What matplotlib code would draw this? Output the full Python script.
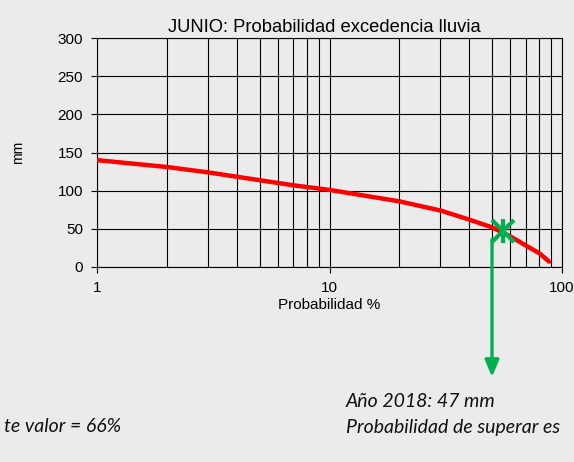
import matplotlib
matplotlib.use("Agg")
import matplotlib.pyplot as plt
from matplotlib.ticker import LogLocator, NullFormatter, FixedLocator

# data
prob = [1, 2, 3, 7, 10, 20, 30, 40, 50, 60, 70, 80, 88]
mm = [140, 131, 124, 107, 101, 86, 74, 62, 52, 40, 28, 18, 7]
year_prob, year_mm = 56, 47
y_ticks = [0, 50, 100, 150, 200, 250, 300]
x_ticks = [1, 10, 100]
x_tick_labels = ["1", "10", "100"]
title = "JUNIO: Probabilidad excedencia lluvia"
line1 = "Año 2018: 47 mm"
line2_visible_right = "Probabilidad de superar es"
line2_visible_left = "te valor = 66%"

W, H = 574, 462
fig = plt.figure(figsize=(W / 100, H / 100), dpi=100)
fig.patch.set_facecolor("#ebebeb")
ax = fig.add_axes([97 / W, 1 - 267 / H, (562 - 97) / W, (267 - 38) / H])
ax.set_facecolor("none")

ax.plot(prob, mm, color="#ff0000", lw=3.2, solid_capstyle="round",
        solid_joinstyle="round", zorder=3)
ax.set_xscale("log")
ax.set_xlim(1, 100)
ax.set_ylim(0, 300)
ax.xaxis.set_major_locator(FixedLocator(x_ticks))
ax.set_xticklabels(x_tick_labels)
ax.xaxis.set_minor_locator(LogLocator(base=10, subs=range(2, 10)))
ax.xaxis.set_minor_formatter(NullFormatter())
ax.set_yticks(y_ticks)
ax.grid(True, which="both", axis="x", color="black", lw=0.8)
ax.grid(True, which="major", axis="y", color="black", lw=0.8)
ax.tick_params(axis="both", which="major", direction="out", length=4, width=0.8,
               labelsize=11, pad=6, colors="black")
ax.tick_params(axis="x", which="minor", length=0)
for s in ax.spines.values():
    s.set_color("black")
    s.set_linewidth(0.8)

fnt = "Liberation Sans"
for lab in ax.get_xticklabels() + ax.get_yticklabels():
    lab.set_fontfamily(fnt)
ax.set_xlabel("Probabilidad %", fontsize=11, family=fnt, labelpad=2)
ax.set_ylabel("mm", fontsize=10, family=fnt)
ax.yaxis.set_label_coords(-72 / (562 - 97), 0.5)
ax.set_title(title, fontsize=13.2, family=fnt, pad=4, x=0.489)

green = "#00b050"
# arrow from the year point down below the chart
ax.annotate("", xy=(492 / W, 1 - 377 / H), xycoords="figure fraction",
            xytext=(50, 36), textcoords="data",
            arrowprops=dict(arrowstyle="-|>,head_length=1.0,head_width=0.42",
                            color=green, lw=2.4, shrinkA=0, shrinkB=0),
            annotation_clip=False, zorder=4)
ax.plot([year_prob], [year_mm], marker="x", ms=16, mew=3, color=green, zorder=5)
ax.plot([year_prob], [year_mm], marker="|", ms=17, mew=3, color=green, zorder=5)

tf = dict(family="Lato", style="italic", fontsize=14, color="#111111")
fig.text(346 / W, 1 - 407 / H, line1, ha="left", va="baseline", **tf)
fig.text(346 / W, 1 - 433 / H, line2_visible_right, ha="left", va="baseline", **tf)
fig.text(4 / W, 1 - 432 / H, line2_visible_left, ha="left", va="baseline", **tf)

fig.savefig("out.png", dpi=100, facecolor=fig.get_facecolor())
